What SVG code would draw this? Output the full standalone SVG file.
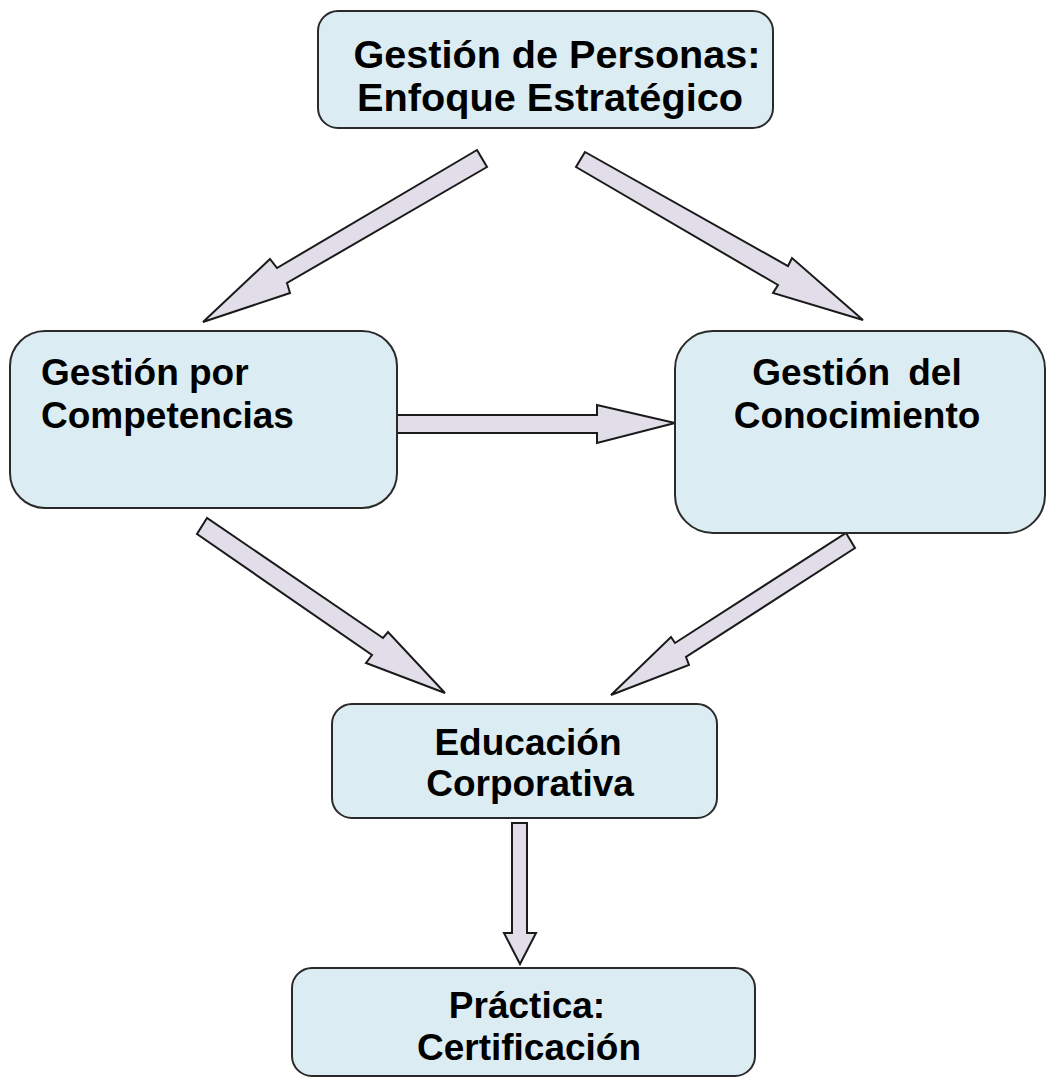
<svg xmlns="http://www.w3.org/2000/svg" width="1047" height="1080" viewBox="0 0 1047 1080">
  <style>
    .box { fill: #dbedf3; stroke: #2a2a2a; stroke-width: 2; }
    .arrow { fill: #e1dde9; stroke: #1a1a1a; stroke-width: 2; stroke-linejoin: miter; }
    .lbl { font-family: "Liberation Sans", Arial, sans-serif; font-weight: bold; fill: #000; }
  </style>
  <rect width="1047" height="1080" fill="#ffffff"/>
  <g id="connectors">
    <polygon class="arrow" points="477,150 487,167 287,283 290,293 203,322 270,259 277,268"/>
    <polygon class="arrow" points="585,152 576,167 778,285 773,293 863,320 792,258 788,266"/>
    <polygon class="arrow" points="396,415 597,415 597,405 675,423 597,443 597,433 396,433"/>
    <polygon class="arrow" points="207,518 197,534 372,655 366,663 445,693 388,632 383,638"/>
    <polygon class="arrow" points="846,533 855,548 686,657 689,665 611,695 671,637 675,643"/>
    <polygon class="arrow" points="512,823 527,823 527,933 536,933 520,964 504,933 512,933"/>
  </g>
  <g id="node-personas">
    <rect class="box" x="318" y="11" width="455" height="117" rx="20" ry="20"/>
    <text class="lbl" font-size="38" text-anchor="middle" x="557" y="68" textLength="407" lengthAdjust="spacingAndGlyphs">Gestión de Personas:</text>
    <text class="lbl" font-size="38" text-anchor="middle" x="550" y="111" textLength="386" lengthAdjust="spacingAndGlyphs">Enfoque Estratégico</text>
  </g>
  <g id="node-competencias">
    <rect class="box" x="10" y="331" width="387" height="177" rx="35" ry="35"/>
    <text class="lbl" font-size="37" x="41" y="385">Gestión por</text>
    <text class="lbl" font-size="37" x="41" y="428">Competencias</text>
  </g>
  <g id="node-conocimiento">
    <rect class="box" x="675" y="331" width="370" height="202" rx="38" ry="38"/>
    <text class="lbl" font-size="37" text-anchor="middle" x="857" y="385" word-spacing="8">Gestión del</text>
    <text class="lbl" font-size="37" text-anchor="middle" x="857" y="428">Conocimiento</text>
  </g>
  <g id="node-educacion">
    <rect class="box" x="332" y="704" width="385" height="114" rx="20" ry="20"/>
    <text class="lbl" font-size="37" text-anchor="middle" x="528" y="755">Educación</text>
    <text class="lbl" font-size="37" text-anchor="middle" x="530" y="796">Corporativa</text>
  </g>
  <g id="node-practica">
    <rect class="box" x="292" y="968" width="463" height="108" rx="20" ry="20"/>
    <text class="lbl" font-size="37" text-anchor="middle" x="527" y="1018">Práctica:</text>
    <text class="lbl" font-size="37" text-anchor="middle" x="529" y="1060">Certificación</text>
  </g>
</svg>
